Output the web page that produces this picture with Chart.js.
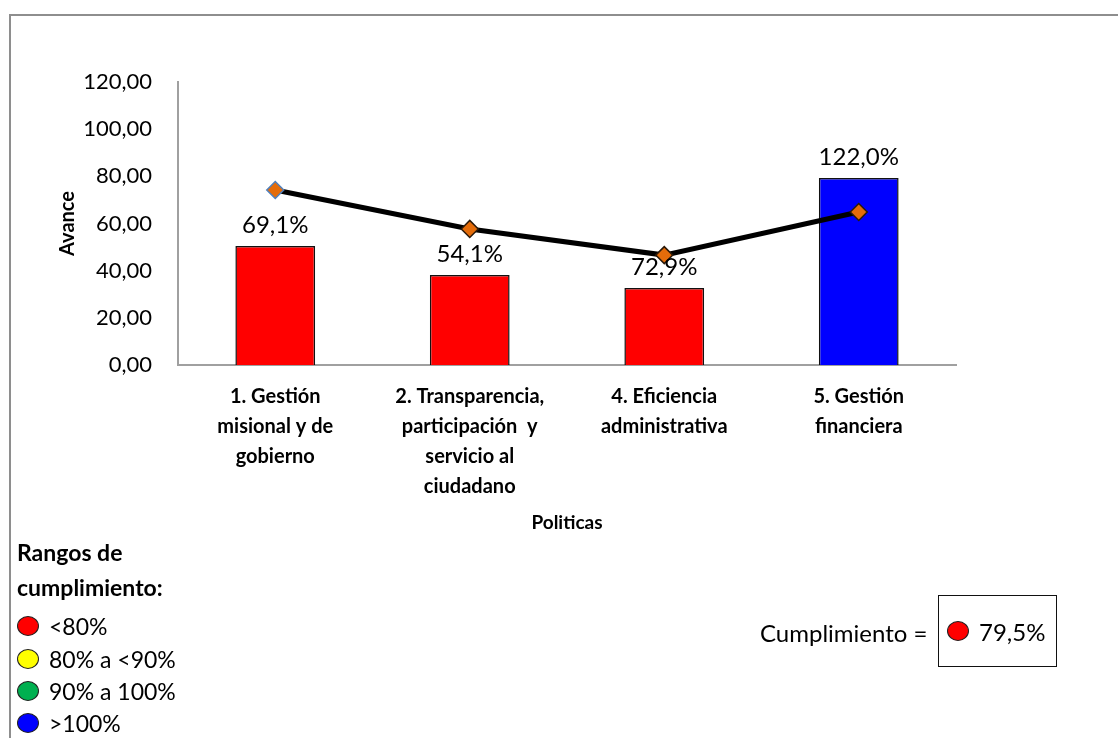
<!DOCTYPE html>
<html lang="es">
<head>
<meta charset="utf-8">
<title>Avance por políticas</title>
<script src="https://cdn.jsdelivr.net/npm/chart.js@4.4.1/dist/chart.umd.min.js"></script>
<style>
  html, body { margin: 0; padding: 0; background: #fff; overflow: hidden; }
  #wrap { position: relative; width: 1118px; height: 738px; overflow: hidden; font-family: Lato, "Open Sans", sans-serif; color: #000; }
  #frame { position: absolute; left: 9px; top: 14px; width: 1200px; height: 800px; border: 2px solid #8e8e8e; box-sizing: border-box; }
  #chart { position: absolute; left: 0; top: 0; }
  .legend-title { position: absolute; left: 17px; font-weight: bold; font-size: 23px; line-height: 35px; }
  .legend-row { position: absolute; left: 17px; height: 32px; display: flex; align-items: center; font-size: 23px; }
  .dot { display: inline-block; width: 20px; height: 18px; border-radius: 50%; border: 1.5px solid #222; margin-right: 10px; }
  #kpi-label { position: absolute; left: 760px; top: 617px; font-size: 24px; line-height: 32px; }
  #kpi-box { position: absolute; left: 938px; top: 595px; width: 119px; height: 72px; border: 1.5px solid #111; box-sizing: border-box; display: flex; align-items: center; padding-left: 8px; font-size: 24px; }
</style>
</head>
<body>
<div id="wrap">
  <div id="frame"></div>
  <canvas id="chart" width="1118" height="738"></canvas>
  <div class="legend-title" style="top:535px">Rangos de</div>
  <div class="legend-title" style="top:570px">cumplimiento:</div>
  <div id="legend-rows"></div>
  <div id="kpi-label">Cumplimiento =</div>
  <div id="kpi-box"><span class="dot" style="background:#ff0000"></span><span id="kpi-value"></span></div>
</div>
<script>
// categories (multi-line tick labels)
const categories = [
  ["1. Gestión", "misional y de", "gobierno"],
  ["2. Transparencia,", "participación  y", "servicio al", "ciudadano"],
  ["4. Eficiencia", "administrativa"],
  ["5. Gestión", "financiera"]
];
// bar series (avance)
const barValues = [50.5, 38.2, 32.7, 79.3];
const barColors = ["#ff0000", "#ff0000", "#ff0000", "#0000ff"];
// line series (meta)
const lineValues = [74.2, 57.7, 46.6, 64.9];
const markerBorders = ["#4f81bd", "#2b1a0a", "#2b1a0a", "#2b1a0a"];
// labels above the bars
const pctLabels = ["69,1%", "54,1%", "72,9%", "122,0%"];
// y-axis ticks
const yTicks = [0, 20, 40, 60, 80, 100, 120];
const yTickLabels = ["0,00", "20,00", "40,00", "60,00", "80,00", "100,00", "120,00"];
// compliance legend
const rangeLabels = ["<80%", "80% a <90%", "90% a 100%", ">100%"];
const rangeColors = ["#ff0000", "#ffff00", "#00b050", "#0000ff"];
const totalCompliance = "79,5%";

const FONT = "Lato, 'Open Sans', sans-serif";

// legend rows
const rows = document.getElementById("legend-rows");
const rowTops = [610, 643, 675, 707];
rangeLabels.forEach((txt, i) => {
  const d = document.createElement("div");
  d.className = "legend-row";
  d.style.top = rowTops[i] + "px";
  d.innerHTML = '<span class="dot" style="background:' + rangeColors[i] + '"></span>' + txt;
  rows.appendChild(d);
});
document.getElementById("kpi-value").textContent = totalCompliance;

// draws the percentage text above each bar
const barLabels = {
  id: "barLabels",
  afterDatasetsDraw(chart) {
    const meta = chart.getDatasetMeta(1);
    const ctx = chart.ctx;
    ctx.save();
    ctx.font = "24px " + FONT;
    ctx.fillStyle = "#000";
    ctx.textAlign = "center";
    ctx.textBaseline = "middle";
    meta.data.forEach((bar, i) => {
      ctx.fillText(pctLabels[i], bar.x, bar.y - 21);
    });
    ctx.restore();
  }
};

Chart.defaults.font.family = FONT;
Chart.defaults.color = "#000";

new Chart(document.getElementById("chart"), {
  data: {
    labels: categories,
    datasets: [
      {
        type: "line",
        data: lineValues,
        order: 0,
        borderColor: "#000",
        borderWidth: 5,
        tension: 0,
        pointStyle: "rectRot",
        pointRadius: 8.5,
        pointBackgroundColor: "#e46c0a",
        pointBorderColor: markerBorders,
        pointBorderWidth: 1.5
      },
      {
        type: "bar",
        data: barValues,
        order: 1,
        backgroundColor: barColors,
        borderColor: "#111",
        borderWidth: 1.5,
        barPercentage: 0.41,
        categoryPercentage: 1
      }
    ]
  },
  options: {
    responsive: false,
    animation: false,
    devicePixelRatio: 1,
    layout: { padding: { left: 0, top: 82, right: 162, bottom: 0 } },
    plugins: { legend: { display: false }, tooltip: { enabled: false } },
    scales: {
      x: {
        grid: { display: false, drawTicks: false },
        border: { display: true, color: "#a0a0a0", width: 2 },
        ticks: {
          padding: 17,
          maxRotation: 0,
          autoSkip: false,
          font: { size: 20, weight: "bold", lineHeight: 1.5 }
        },
        title: {
          display: true,
          text: "Politicas",
          font: { size: 19, weight: "bold" },
          padding: { top: 0, bottom: 204 }
        },
        afterFit(scale) { scale.height = 373; }
      },
      y: {
        min: 0,
        max: 120,
        grid: { display: false, drawTicks: false },
        border: { display: true, color: "#a0a0a0", width: 2 },
        afterBuildTicks(scale) { scale.ticks = yTicks.map(v => ({ value: v })); },
        ticks: {
          padding: 26,
          font: { size: 22 },
          callback: (v) => yTickLabels[yTicks.indexOf(v)]
        },
        title: {
          display: true,
          text: "Avance",
          font: { size: 20, weight: "bold" },
          padding: { top: 56, bottom: 0 }
        },
        afterFit(scale) { scale.width = 178; }
      }
    }
  },
  plugins: [barLabels]
});
</script>
</body>
</html>
